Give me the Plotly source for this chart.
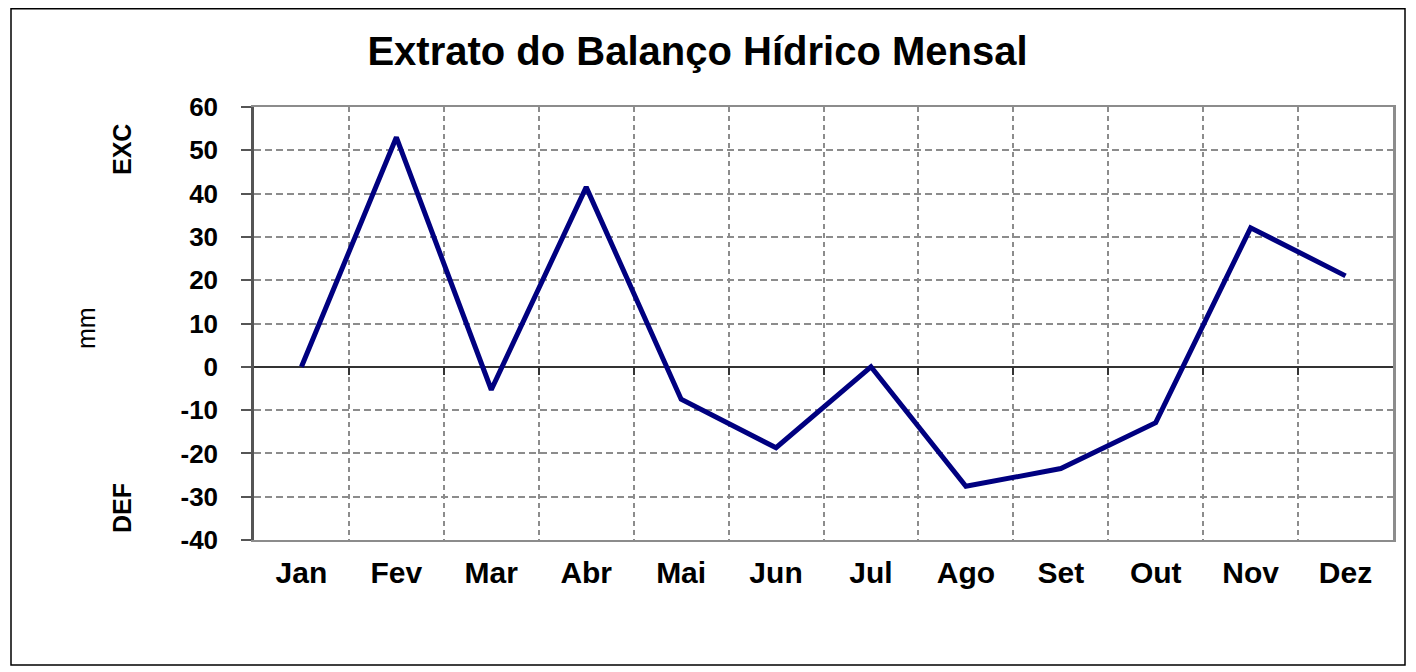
import plotly.graph_objects as go

months = ["Jan", "Fev", "Mar", "Abr", "Mai", "Jun", "Jul", "Ago", "Set", "Out", "Nov", "Dez"]
balance = [0, 53, -5.3, 41.5, -7.5, -18.7, 0, -27.6, -23.5, -12.9, 32.1, 21.0]
y_ticks = [-40, -30, -20, -10, 0, 10, 20, 30, 40, 50, 60]
y_ticktext = [str(v) for v in y_ticks]

idx = list(range(len(months)))
bounds = [i + 0.5 for i in range(len(months) - 1)]

FONT = "Liberation Sans, Arial, sans-serif"
GRID = "#8c8c8c"

W, H = 1408, 664
L, R, T, B = 246, 23, 99, 132

fig = go.Figure()
fig.add_trace(go.Scatter(x=idx, y=balance, mode="lines",
                         line=dict(color="#000080", width=5),
                         hoverinfo="x+y", showlegend=False))
fig.add_trace(go.Scatter(x=idx, y=balance, xaxis="x2", yaxis="y", mode="lines",
                         line=dict(width=0, color="rgba(0,0,0,0)"), showlegend=False, hoverinfo="skip"))
fig.add_trace(go.Scatter(x=idx, y=balance, xaxis="x", yaxis="y2", mode="lines",
                         line=dict(width=0, color="rgba(0,0,0,0)"), showlegend=False, hoverinfo="skip"))

ymin, ymax = -40, 60
zero_pos = (0 - ymin) / (ymax - ymin)

fig.update_layout(
    width=W, height=H,
    margin=dict(l=L, r=R, t=T, b=B),
    paper_bgcolor="white", plot_bgcolor="white",
    font=dict(family=FONT, color="black"),
    title=dict(text="<b>Extrato do Balanço Hídrico Mensal</b>", x=(697.5 - 8) / W, xanchor="center",
               y=1 - (51 - 8) / H, yanchor="middle", font=dict(size=40, family=FONT)),
    xaxis=dict(range=[-0.5, 11.5], tickvals=idx, ticktext=months, ticks="",
               tickfont=dict(size=30, family=FONT, weight="bold"),
               ticklabelstandoff=5,
               showgrid=False, zeroline=False,
               showline=True, linecolor=GRID, linewidth=2, mirror=True,
               minor=dict(tickvals=bounds, showgrid=True, gridcolor=GRID, gridwidth=2, griddash="5px,4px", ticks=""),
               fixedrange=True),
    xaxis2=dict(range=[-0.5, 11.5], overlaying="x", anchor="free", position=zero_pos, side="bottom",
                tickvals=bounds, ticks="outside", ticklen=7, tickwidth=1.5, tickcolor="#333",
                showticklabels=False, showgrid=False, zeroline=False, showline=False, fixedrange=True),
    yaxis=dict(range=[ymin, ymax], tickvals=y_ticks, ticktext=y_ticktext, ticks="outside", ticklen=10, tickwidth=2,
               tickcolor="#555", tickfont=dict(size=26, family=FONT, weight="bold"),
               ticklabelstandoff=18,
               showgrid=True, gridcolor=GRID, gridwidth=2, griddash="7px,4px",
               zeroline=True, zerolinecolor="#333", zerolinewidth=1.5,
               showline=True, linecolor="#555", linewidth=2.5, mirror=False,
               fixedrange=True),
    yaxis2=dict(range=[ymin, ymax], overlaying="y", side="right", showline=True, linecolor=GRID,
                linewidth=2.5, showticklabels=False, ticks="", showgrid=False, zeroline=False, fixedrange=True),
)

pw, ph = W - L - R, H - T - B

def px_to_paper(xp, yp):
    return (xp - 8 - L) / pw, (H - B - (yp - 8)) / ph

x0, y0 = px_to_paper(11, 665)
x1, y1 = px_to_paper(1405, 8.75)
fig.add_shape(type="rect", xref="paper", yref="paper", x0=x0, y0=y0, x1=x1, y1=y1,
              line=dict(color="black", width=1.5), fillcolor="rgba(0,0,0,0)", layer="below")

for text, xp, yp, bold in [("EXC", 122, 150, True), ("mm", 86, 328, False), ("DEF", 122, 508, True)]:
    ax, ay = px_to_paper(xp, yp)
    fig.add_annotation(text=f"<b>{text}</b>" if bold else text, xref="paper", yref="paper",
                       x=ax, y=ay, showarrow=False, textangle=-90,
                       font=dict(size=25, family=FONT, color="black"),
                       xanchor="center", yanchor="middle")

fig.write_html("out.html")
